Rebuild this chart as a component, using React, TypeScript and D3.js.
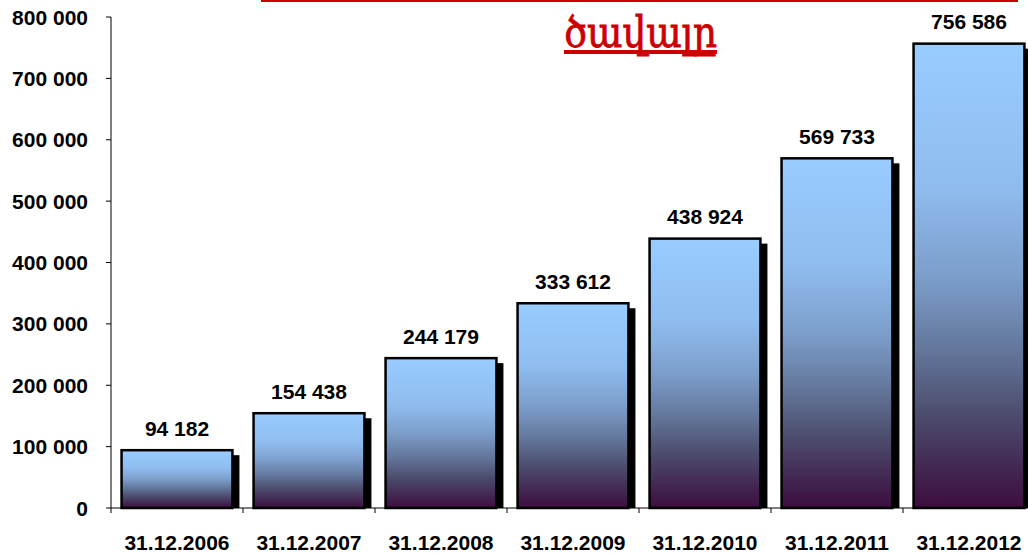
import React from "react";
import * as d3 from "d3";

const categories = ["31.12.2006", "31.12.2007", "31.12.2008", "31.12.2009", "31.12.2010", "31.12.2011", "31.12.2012"];
const values = [94182, 154438, 244179, 333612, 438924, 569733, 756586];
const yTicks = [0, 100000, 200000, 300000, 400000, 500000, 600000, 700000, 800000];
const titleLine2 = "ծավալը";

const W = 1028;
const H = 555;
const left = 111;
const plotRight = left + 132 * 7;
const top = 17;
const bottom = 508;

const fmt = (v: number) => d3.format(",")(v).replace(/,/g, " ");

export default function App() {
  const x = d3.scaleBand<string>().domain(categories).range([left, plotRight]).paddingInner(0.16).paddingOuter(0.08);
  const xc = d3.scaleBand<string>().domain(categories).range([left, plotRight]);
  const y = d3.scaleLinear().domain([0, 800000]).range([bottom, top]);
  const font = "'Liberation Sans', Arial, sans-serif";
  return (
    <div style={{ position: "fixed", left: 0, top: 0 }}>
      <svg width={W} height={H} style={{ display: "block", background: "#fff" }}>
        <defs>
          <linearGradient id="barGrad" x1="0" y1="0" x2="0" y2="1">
            <stop offset="0" stopColor="#99ccff" />
            <stop offset="0.3" stopColor="#90bdf0" />
            <stop offset="0.5" stopColor="#7c9ecb" />
            <stop offset="0.65" stopColor="#65799e" />
            <stop offset="0.8" stopColor="#4c4c6c" />
            <stop offset="1" stopColor="#3c0d3e" />
          </linearGradient>
        </defs>
        {/* title remnants: underline of the first (off-screen) title line */}
        <rect x={261} y={0} width={757} height={2} fill="#cc0000" />
        <text x={640.5} y={47} textAnchor="middle" fill="#cc0000" stroke="#cc0000" strokeWidth={0.8} fontFamily="'DejaVu Serif', serif" fontSize={42} textLength={153} lengthAdjust="spacingAndGlyphs">{titleLine2}</text>
        <rect x={564} y={50} width={153} height={4} fill="#cc0000" />
        {/* y axis */}
        <line x1={left} x2={left} y1={top} y2={bottom} stroke="#000" strokeWidth={1} />
        {yTicks.map((t) => (
          <g key={t}>
            <line x1={left - 5} x2={left} y1={y(t)} y2={y(t)} stroke="#000" />
            <text x={88} y={y(t)} dy="0.36em" textAnchor="end" fontFamily={font} fontWeight="bold" fontSize={21} fill="#000">{fmt(t)}</text>
          </g>
        ))}
        {/* bars */}
        {categories.map((c, i) => {
          const bx = x(c)!;
          const bw = x.bandwidth();
          const by = y(values[i]);
          return (
            <g key={c}>
              <rect x={bx + 7} y={by + 5} width={bw} height={bottom - by - 5} fill="#000" />
              <rect x={bx} y={by} width={bw} height={bottom - by} fill="url(#barGrad)" stroke="#000" strokeWidth={2.5} />
              <text x={bx + bw / 2} y={by - 22} dy="0.36em" textAnchor="middle" fontFamily={font} fontWeight="bold" fontSize={21} fill="#000">{fmt(values[i])}</text>
            </g>
          );
        })}
        {/* x axis */}
        <line x1={left} x2={plotRight} y1={bottom} y2={bottom} stroke="#000" />
        {categories.map((c) => (
          <line key={"t" + c} x1={xc(c)!} x2={xc(c)!} y1={bottom} y2={bottom + 5} stroke="#000" />
        ))}
        {categories.map((c) => (
          <text key={"l" + c} x={xc(c)! + xc.bandwidth() / 2} y={550} textAnchor="middle" fontFamily={font} fontWeight="bold" fontSize={21} fill="#000">{c}</text>
        ))}
      </svg>
    </div>
  );
}
